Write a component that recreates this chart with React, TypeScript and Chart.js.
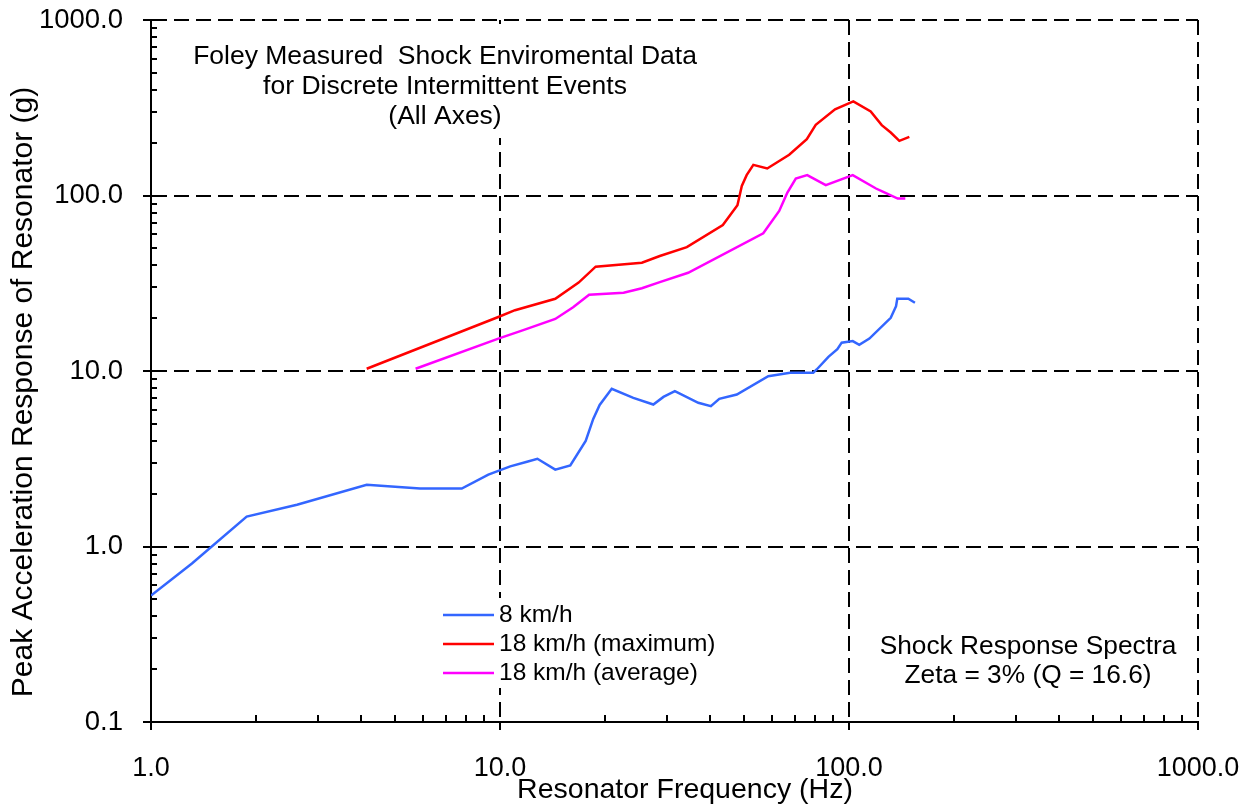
import React, { useEffect, useRef } from 'react';
import { Chart, registerables } from 'chart.js';

Chart.register(...registerables);

const FONT = '"Liberation Sans", Arial, Helvetica, sans-serif';

// 8 km/h
const freq8 = [1.0, 1.31, 1.88, 2.62, 4.15, 5.9, 7.77, 9.26, 10.7, 11.95, 12.8, 14.4, 15.9, 17.6, 18.5, 19.3, 20.9, 24.1, 27.5, 29.4, 31.7, 37.0, 40.2, 42.5, 47.7, 58.7, 67.8, 79.0, 80.8, 87.3, 92.6, 95.3, 102.5, 107.0, 114.4, 131.7, 136.4, 137.5, 147.9, 154.5];
const acc8 = [0.526, 0.8, 1.48, 1.73, 2.25, 2.14, 2.14, 2.57, 2.86, 3.04, 3.16, 2.74, 2.9, 4.0, 5.33, 6.4, 7.91, 7.03, 6.44, 7.12, 7.67, 6.59, 6.3, 6.94, 7.34, 9.34, 9.77, 9.77, 10.2, 12.05, 13.3, 14.5, 14.8, 14.1, 15.3, 20.1, 23.4, 25.8, 25.8, 24.5];

// 18 km/h (maximum)
const freq18Max = [4.15, 9.89, 11.04, 14.4, 16.8, 18.8, 25.5, 28.7, 34.3, 43.5, 47.9, 49.3, 50.9, 53.2, 58.3, 67.4, 75.7, 80.3, 91.2, 102.9, 115.4, 124.1, 131.7, 139.4, 148.9];
const acc18Max = [10.3, 20.3, 22.2, 25.8, 31.9, 39.3, 41.4, 45.2, 50.8, 67.9, 87.9, 113.4, 130.6, 149.5, 142.6, 170.6, 209.6, 253, 310, 343.6, 301, 251.7, 228.6, 204.8, 215.6];

// 18 km/h (average)
const freq18Avg = [5.73, 9.89, 11.66, 14.4, 16.2, 18.0, 22.6, 25.5, 28.7, 34.6, 56.8, 63.1, 66.6, 70.4, 75.9, 85.8, 102.5, 119.5, 125.4, 137.9, 145];
const acc18Avg = [10.3, 15.3, 17.1, 19.8, 23.1, 27.2, 27.9, 29.6, 32.1, 36.3, 60.9, 81.6, 104, 125, 130.6, 114.6, 130.6, 109.6, 104.8, 96.1, 96.1];

const xTickValues = [1, 10, 100, 1000];
const xTickLabels = ['1.0', '10.0', '100.0', '1000.0'];
const yTickValues = [0.1, 1, 10, 100, 1000];
const yTickLabels = ['0.1', '1.0', '10.0', '100.0', '1000.0'];

const seriesNames = ['8 km/h', '18 km/h (maximum)', '18 km/h (average)'];
const seriesColors = ['#3366FF', '#FF0000', '#FF00FF'];

const titleLines = ['Foley Measured  Shock Enviromental Data', 'for Discrete Intermittent Events', '(All Axes)'];
const noteLines = ['Shock Response Spectra', 'Zeta = 3% (Q = 16.6)'];
const xTitle = 'Resonator Frequency (Hz)';
const yTitle = 'Peak Acceleration Response of Resonator (g)';

const toPoints = (xs: number[], ys: number[]) => xs.map((x, i) => ({ x, y: ys[i] }));

const zeroPad = (s: any) => {
  s.paddingTop = 0;
  s.paddingBottom = 0;
  s.paddingLeft = 0;
  s.paddingRight = 0;
};

const decorPlugin = {
  id: 'decor',
  beforeDatasetsDraw(chart: any) {
    const { ctx, chartArea, scales } = chart;
    const xs = scales.x;
    const ys = scales.y;
    ctx.save();
    // inward minor ticks
    ctx.strokeStyle = '#000';
    ctx.lineWidth = 2;
    ctx.setLineDash([]);
    for (let d = 0; d < xTickValues.length - 1; d++) {
      for (let k = 2; k <= 9; k++) {
        const px = Math.round(xs.getPixelForValue(xTickValues[d] * k));
        ctx.beginPath();
        ctx.moveTo(px, chartArea.bottom);
        ctx.lineTo(px, chartArea.bottom - 7);
        ctx.stroke();
      }
    }
    for (let d = 0; d < yTickValues.length - 1; d++) {
      for (let k = 2; k <= 9; k++) {
        const py = Math.round(ys.getPixelForValue(yTickValues[d] * k));
        ctx.beginPath();
        ctx.moveTo(chartArea.left, py);
        ctx.lineTo(chartArea.left + 6, py);
        ctx.stroke();
      }
    }
    // title box
    ctx.fillStyle = '#fff';
    ctx.fillRect(180, 24, 530, 114);
    ctx.fillStyle = '#000';
    ctx.font = `26.5px ${FONT}`;
    ctx.textAlign = 'center';
    ctx.textBaseline = 'middle';
    titleLines.forEach((t, i) => ctx.fillText(t, 445, 57 + i * 30));
    // note
    ctx.font = `26.3px ${FONT}`;
    noteLines.forEach((t, i) => ctx.fillText(t, 1028, 647 + i * 29));
    // legend box
    ctx.fillStyle = '#fff';
    ctx.fillRect(430, 598, 295, 90);
    ctx.font = `24.5px ${FONT}`;
    ctx.textAlign = 'left';
    seriesNames.forEach((n, i) => {
      const y = 615 + i * 29;
      ctx.strokeStyle = seriesColors[i];
      ctx.lineWidth = 2.5;
      ctx.beginPath();
      ctx.moveTo(443, y);
      ctx.lineTo(494, y);
      ctx.stroke();
      ctx.fillStyle = '#000';
      ctx.fillText(n, 499, y);
    });
    // axis titles
    ctx.fillStyle = '#000';
    ctx.textAlign = 'center';
    ctx.textBaseline = 'middle';
    ctx.font = `28.5px ${FONT}`;
    ctx.fillText(xTitle, 685, 790);
    ctx.save();
    ctx.translate(24, 392);
    ctx.rotate(-Math.PI / 2);
    ctx.font = `30px ${FONT}`;
    ctx.fillText(yTitle, 0, 0);
    ctx.restore();
    ctx.restore();
  },
};

export default function App() {
  const ref = useRef<HTMLCanvasElement>(null);
  useEffect(() => {
    const canvas = ref.current;
    if (!canvas) return;
    const chart = new Chart(canvas, {
      type: 'scatter',
      data: {
        datasets: [
          { label: seriesNames[0], data: toPoints(freq8, acc8), borderColor: seriesColors[0], backgroundColor: seriesColors[0] },
          { label: seriesNames[1], data: toPoints(freq18Max, acc18Max), borderColor: seriesColors[1], backgroundColor: seriesColors[1] },
          { label: seriesNames[2], data: toPoints(freq18Avg, acc18Avg), borderColor: seriesColors[2], backgroundColor: seriesColors[2] },
        ].map((d) => ({ ...d, showLine: true, pointRadius: 0, borderWidth: 2.5, tension: 0 })),
      },
      options: {
        responsive: false,
        animation: false,
        devicePixelRatio: 1,
        layout: { padding: { top: 20, right: 53, left: 0, bottom: 0 } },
        plugins: { legend: { display: false }, tooltip: { enabled: false }, title: { display: false } },
        scales: {
          x: {
            type: 'logarithmic',
            position: 'bottom',
            min: 1,
            max: 1000,
            afterFit: (s: any) => { s.height = 87; zeroPad(s); },
            afterBuildTicks: (s: any) => { s.ticks = xTickValues.map((v) => ({ value: v, major: true })); },
            ticks: {
              autoSkip: false,
              maxRotation: 0,
              padding: 22,
              color: '#000',
              font: { family: FONT, size: 27 },
              callback: (_v: any, i: number) => xTickLabels[i],
            },
            grid: { color: '#000', lineWidth: 2, tickLength: 8, tickColor: '#000', tickWidth: 2 },
            border: { display: true, color: '#000', width: 2, dash: [15, 7] },
            title: { display: false },
          },
          y: {
            type: 'logarithmic',
            position: 'left',
            min: 0.1,
            max: 1000,
            afterFit: (s: any) => { s.width = 151; zeroPad(s); },
            afterBuildTicks: (s: any) => { s.ticks = yTickValues.map((v) => ({ value: v, major: true })); },
            ticks: {
              autoSkip: false,
              padding: 20,
              color: '#000',
              font: { family: FONT, size: 27.5 },
              callback: (_v: any, i: number) => yTickLabels[i],
            },
            grid: { color: '#000', lineWidth: 2, tickLength: 8, tickColor: '#000', tickWidth: 2 },
            border: { display: true, color: '#000', width: 2, dash: [15, 7] },
            title: { display: false },
          },
        },
      },
      plugins: [decorPlugin],
    } as any);
    return () => chart.destroy();
  }, []);
  return (
    <div style={{ position: 'absolute', left: 0, top: 0, width: 1251, height: 809, background: '#fff' }}>
      <canvas ref={ref} width={1251} height={809} style={{ display: 'block' }} />
    </div>
  );
}
